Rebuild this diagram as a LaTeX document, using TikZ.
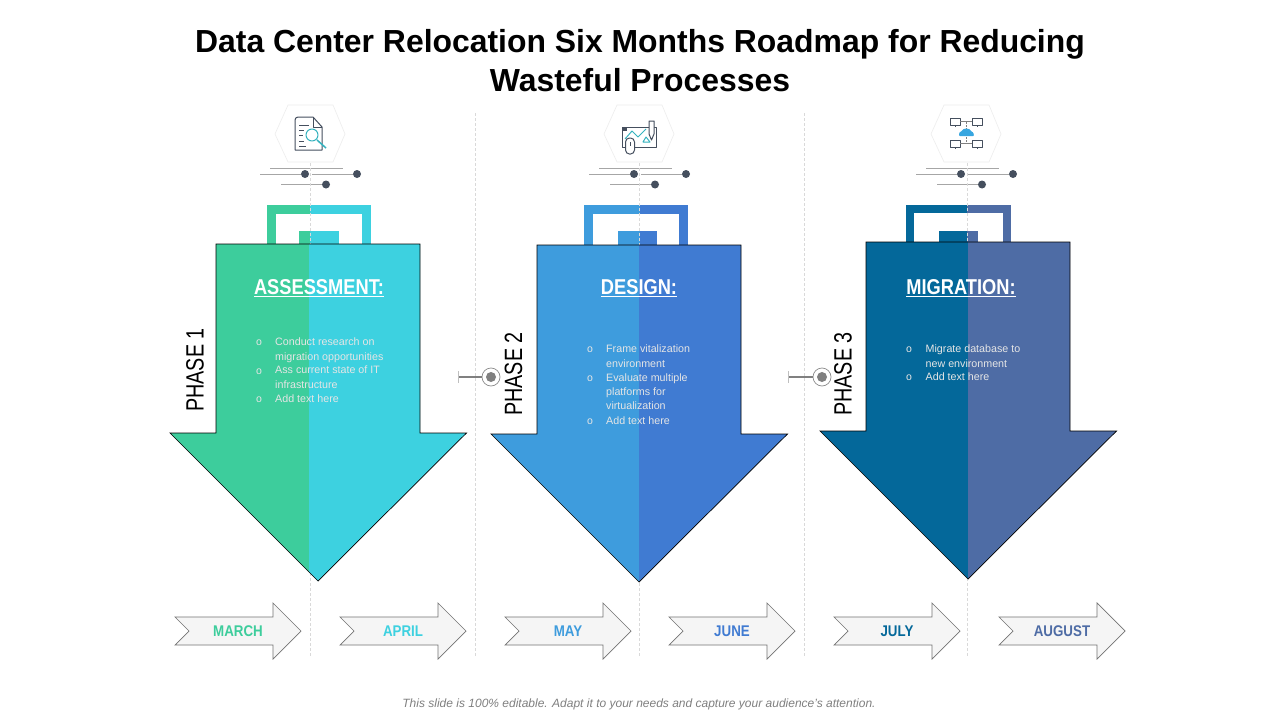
\documentclass[tikz,border=0pt]{standalone}
\usepackage{fontspec}
\setmainfont{Liberation Sans}
\newfontfamily\narrow[FakeStretch=0.79]{Liberation Sans}
\newfontfamily\headnarrow[FakeStretch=0.85]{Liberation Sans}
\newfontfamily\monthnarrow[FakeStretch=0.86]{Liberation Sans}
\usetikzlibrary{calc}
\definecolor{cgreen}{HTML}{3DCD9C}
\definecolor{ccyan}{HTML}{3DD1E0}
\definecolor{cblueA}{HTML}{3E9CDD}
\definecolor{cblueB}{HTML}{407BD2}
\definecolor{cnavy}{HTML}{04689A}
\definecolor{cslate}{HTML}{4E6CA5}
\definecolor{cink}{HTML}{454F5E}
\tikzset{
  vdash/.style={draw=black!15,line width=.6pt,dash pattern=on 3pt off 2pt},
  hexa/.style={draw=black!7,line width=.6pt},
  tick/.style={draw=black!35,line width=.7pt},
  dotn/.style={circle,fill=cink,inner sep=0pt,minimum size=8pt},
  ring/.style={circle,draw=black!45,fill=white,line width=.7pt,inner sep=0pt,minimum size=18pt},
  ringin/.style={circle,fill=black!50,inner sep=0pt,minimum size=10pt},
  conn/.style={draw=black!50,line width=1.2pt},
  month/.style={draw=black!55,fill=black!4,line width=.7pt,line join=miter},
  monthtxt/.style={font=\monthnarrow\bfseries\fontsize{15.5}{18}\selectfont},
  phasetxt/.style={rotate=90,font=\narrow\fontsize{25}{28}\selectfont,text=black},
  headtxt/.style={font=\headnarrow\bfseries\fontsize{21.5}{24}\selectfont,text=white},
  itemtxt/.style={font=\fontsize{10.7}{14.2}\selectfont,text=white!90!black,anchor=north west,inner sep=0pt,align=left},
  bullettxt/.style={font=\fontsize{10.5}{14.2}\selectfont,text=white!90!black,anchor=north,inner sep=0pt},
  ico/.style={draw=cink,line width=1pt,line join=round},
  icoc/.style={draw=ccyan!85!black,line width=1pt,line join=round}
}
% #1 left x, #2 top y, #3 split x, #4 left colour, #5 right colour
\newcommand{\bigarrowshape}[5]{%
  \begin{scope}
    \clip (#1,#2) -- ++(204,0) -- ++(0,189) -- ++(46.5,0) -- ++(-148.5,148) -- ++(-148,-148) -- ++(46,0) -- cycle;
    \fill[#4] (#1-60,#2) rectangle (#3,#2+340);
    \fill[#5] (#3,#2) rectangle (#1+260,#2+340);
  \end{scope}
  \draw[black,line width=.7pt,line join=miter] (#1,#2) -- ++(204,0) -- ++(0,189) -- ++(46.5,0) -- ++(-148.5,148) -- ++(-148,-148) -- ++(46,0) -- cycle;
}
% #1 left x, #2 right x, #3 split, #4 inner left, #5 inner right, #6/#7 colours, #8 thickness
\newcommand{\bracketshape}[8]{%
  \fill[#6] (#1,205) rectangle (#3,248);
  \fill[#7] (#3,205) rectangle (#2,248);
  \fill[white] (#1+#8,205+#8) rectangle (#2-#8,248);
  \fill[#6] (#4,231) rectangle (#3,248);
  \fill[#7] (#3,231) rectangle (#5,248);
}
% #1 name, #2 x offset
\newcommand{\decor}[2]{%
  \begin{scope}[shift={(#2,0)}]
    \draw[hexa] (275,134) -- (288,105) -- (333,105) -- (345,134) -- (333,162) -- (288,162) -- cycle;
    \draw[tick] (270,168) -- (343,168);
    \node[dotn] (#1a) at (305,174) {};
    \node[dotn] (#1b) at (357,174) {};
    \node[dotn] (#1c) at (326,184.5) {};
    \coordinate (#1l) at (260,174);
    \coordinate (#1m) at (281,184.5);
    \coordinate (#1n) at (312,174);
    \draw[tick] (#1l) -- (#1a);
    \draw[tick] (#1n) -- (#1b);
    \draw[tick] (#1m) -- (#1c);
  \end{scope}
}
% #1 name, #2 x, #3 label, #4 colour
\newcommand{\monthshape}[4]{%
  \draw[month] (#2+1,617) -- ++(98,0) -- ++(0,-14) -- ++(28,28) -- ++(-28,28) -- ++(0,-14) -- ++(-98,0) -- ++(14,-14) -- cycle;
  \node[monthtxt,text=#4] (#1) at (#2+64,631) {#3};
}
\begin{document}
\begin{tikzpicture}[x=1pt,y=-1pt]
\useasboundingbox (0,0) rectangle (1280,720);
\fill[white] (0,0) rectangle (1280,720);

\node[font=\bfseries\fontsize{31.9}{39}\selectfont,align=center,text=black] (title) at (640,60.5) {Data Center Relocation Six Months Roadmap for Reducing\\Wasteful Processes};

\decor{da}{0}
\decor{db}{329}
\decor{dc}{656}

\bracketshape{267}{371}{310}{299}{339}{cgreen}{ccyan}{9}
\bracketshape{584}{688}{639.5}{618}{657}{cblueA}{cblueB}{9}
\bracketshape{906}{1011}{967}{939}{978}{cnavy}{cslate}{8}

% dashed guides
\draw[vdash] (310,163) -- (310,657);
\draw[vdash] (639.5,163) -- (639.5,657);
\draw[vdash] (967,163) -- (967,657);
\draw[vdash] (475,113) -- (475,657);
\draw[vdash] (804,113) -- (804,657);

\bigarrowshape{216}{244}{309}{cgreen}{ccyan}
\bigarrowshape{537}{245}{639}{cblueA}{cblueB}
\bigarrowshape{866}{242}{968}{cnavy}{cslate}

% connectors
\coordinate (ca) at (458,377);
\coordinate (cb) at (788,377);
\node[ring] (ra) at (491,377) {};
\node[ring] (rb) at (822,377) {};
\node[ringin] at (ra) {};
\node[ringin] at (rb) {};
\draw[conn] (ca) -- (ra);
\draw[conn] (cb) -- (rb);
\draw[draw=black!25,line width=.6pt] (458,371) -- (458,383);
\draw[draw=black!25,line width=.6pt] (788,371) -- (788,383);

% phase labels
\node[phasetxt] (p1) at (195,370) {PHASE 1};
\node[phasetxt] (p2) at (513.5,374) {PHASE 2};
\node[phasetxt] (p3) at (843,374) {PHASE 3};

% headings
\node[headtxt] (h1) at (319,288.5) {\underline{ASSESSMENT:}};
\node[headtxt] (h2) at (639,288.5) {\underline{DESIGN:}};
\node[headtxt] (h3) at (961,288.5) {\underline{MIGRATION:}};

% phase 1 list
\node[bullettxt] (b11) at (259,340) {o};
\node[bullettxt] (b12) at (259,368.5) {o};
\node[bullettxt] (b13) at (259,397) {o};
\node[itemtxt] (i11) at (275,338) {Conduct research on\\migration opportunities};
\node[itemtxt] (i12) at (275,366) {Ass current state of IT\\infrastructure};
\node[itemtxt] (i13) at (275,395) {Add text here};

% phase 2 list
\node[bullettxt] (b21) at (590,347) {o};
\node[bullettxt] (b22) at (590,375.5) {o};
\node[bullettxt] (b23) at (590,419) {o};
\node[itemtxt] (i21) at (606,345) {Frame vitalization\\environment};
\node[itemtxt] (i22) at (606,373.5) {Evaluate multiple\\platforms for\\virtualization};
\node[itemtxt] (i23) at (606,417) {Add text here};

% phase 3 list
\node[bullettxt] (b31) at (909,347) {o};
\node[bullettxt] (b32) at (909,375) {o};
\node[itemtxt] (i31) at (925.5,345) {Migrate database to\\new environment};
\node[itemtxt] (i32) at (925.5,373) {Add text here};

% months
\monthshape{m1}{174}{MARCH}{cgreen}
\monthshape{m2}{339}{APRIL}{ccyan}
\monthshape{m3}{504}{MAY}{cblueA}
\monthshape{m4}{668}{JUNE}{cblueB}
\monthshape{m5}{833}{JULY}{cnavy}
\monthshape{m6}{998}{AUGUST}{cslate}

% icon 1: document and magnifier
\draw[ico] (298,117) -- (313,117) -- (322,127) -- (322,150) -- (295,150) -- (295,120) to[out=90,in=180] cycle;
\draw[ico] (313,117) -- (313,127) -- (322,127);
\foreach \yy/\xe in {125/309,130/304,135/303,141/304,146/306}{\draw[ico,line width=.7pt] (299,\yy) -- (\xe,\yy);}
\draw[icoc,fill=white,fill opacity=.6] (312,135) circle (6);
\draw[icoc,line width=1.5pt] (317,140) -- (326,148);

% icon 2: drawing with mouse and pencil
\draw[ico] (622,127) rectangle (656,147);
\fill[cink] (623,127) rectangle (627,131);
\draw[icoc] (625,139) -- (632,131) -- (638,137) -- (646,129);
\draw[icoc] (643,142) -- (646,137) -- (650,142) -- cycle;
\draw[ico,fill=white,rounded corners=4pt] (625.5,138) rectangle (634.5,154);
\draw[ico,line width=.7pt] (630,142) -- (630,146);
\draw[ico,fill=white] (649,121) -- (654,121) -- (654,134) -- (651.5,140) -- (649,134) -- cycle;

% icon 3: network and cloud
\foreach \xx/\yy in {950/118,972/118,950/140,972/140}{
  \draw[ico,fill=white] (\xx,\yy) rectangle ++(10,7);
  \draw[ico,line width=.7pt] (\xx+5,\yy+7) -- ++(0,2);
}
\draw[draw=black!50,line width=.6pt] (960,121.5) -- (972,121.5);
\draw[draw=black!50,line width=.6pt] (960,143.5) -- (972,143.5);
\draw[draw=black!50,line width=.5pt,dash pattern=on 1.5pt off 1.5pt] (966,122) -- (966,143);
\fill[cblueA!90!cyan] (960,136) to[out=180,in=180] (961,131.5) to[out=60,in=180] (966.5,128.5) to[out=0,in=120] (971.5,131.5) to[out=0,in=0] (973,136) -- cycle;

\node[font=\itshape\fontsize{12}{14}\selectfont,text=black!50] (foot) at (639,704) {This slide is 100\% editable. Adapt it to your needs and capture your audience's attention.};
\end{tikzpicture}
\end{document}
